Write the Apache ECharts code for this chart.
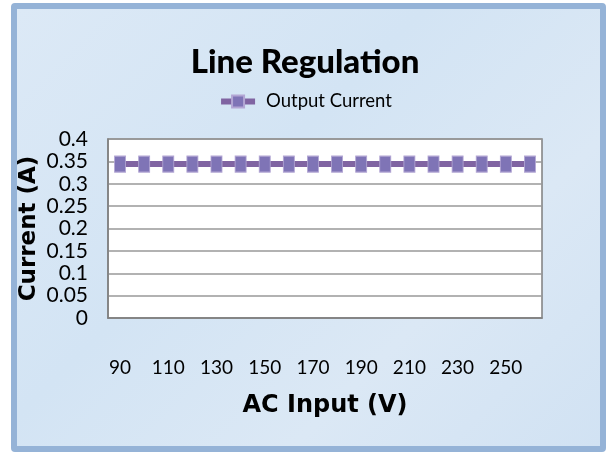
<!DOCTYPE html>
<html>
<head>
<meta charset="utf-8">
<script src="https://cdn.jsdelivr.net/npm/echarts@6/dist/echarts.min.js"></script>
<style>
  html, body { margin: 0; padding: 0; background: #ffffff; }
  #wrap { position: relative; width: 610px; height: 455px; overflow: hidden; }
  #frame { position: absolute; left: 11px; top: 3px; width: 583px; height: 437px;
           border: 6px solid #95b3d7; border-radius: 4px;
           background: linear-gradient(135deg, #dce9f6 0%, #d3e4f4 40%, #dbe8f5 70%, #d1e2f3 100%); }
  #chart { position: absolute; left: 0; top: 0; width: 610px; height: 455px; }
</style>
</head>
<body>
<div id="wrap">
  <div id="frame"></div>
  <div id="chart"></div>
</div>
<script>
const categories = ['90','100','110','120','130','140','150','160','170','180','190','200','210','220','230','240','250','260'];
const outputCurrent = [0.344,0.344,0.344,0.344,0.344,0.344,0.344,0.344,0.344,0.344,0.344,0.344,0.344,0.344,0.344,0.344,0.344,0.344];
const yTicks = { min: 0, max: 0.4, interval: 0.05 };

const chart = echarts.init(document.getElementById('chart'), null, { renderer: 'canvas' });
chart.setOption({
  backgroundColor: 'transparent',
  animation: false,
  title: {
    text: 'Line Regulation',
    left: 'center',
    top: 41,
    textStyle: { fontFamily: 'Lato', fontWeight: 900, fontSize: 33, color: '#000' }
  },
  legend: {
    top: 87,
    left: 'center',
    itemWidth: 34,
    itemHeight: 15,
    itemGap: 4,
    lineStyle: { width: 6 },
    textStyle: { fontFamily: 'Lato', fontSize: 18.5, color: '#000', padding: [0,0,0,6] },
    data: ['Output Current']
  },
  grid: {
    left: 108, top: 139, width: 434, height: 179,
    show: true, backgroundColor: '#ffffff', borderColor: '#7f7f7f', borderWidth: 1.5
  },
  xAxis: {
    type: 'category',
    data: categories,
    boundaryGap: true,
    name: 'AC Input (V)',
    nameLocation: 'middle',
    nameGap: 76,
    nameMoveOverlap: false,
    nameTextStyle: { fontFamily: 'DejaVu Sans', fontWeight: 'bold', fontSize: 24, color: '#000' },
    axisLine: { show: true, lineStyle: { color: '#7f7f7f', width: 1.5 } },
    axisTick: { show: false },
    axisLabel: { interval: 1, margin: 40, fontFamily: 'Lato', fontSize: 19, color: '#000' },
    splitLine: { show: false }
  },
  yAxis: {
    type: 'value',
    min: yTicks.min, max: yTicks.max, interval: yTicks.interval,
    name: 'Current (A)',
    nameLocation: 'middle',
    nameGap: 67,
    nameMoveOverlap: false,
    nameTextStyle: { fontFamily: 'DejaVu Sans', fontWeight: 'bold', fontSize: 23, color: '#000' },
    axisLine: { show: true, lineStyle: { color: '#7f7f7f', width: 1.5 } },
    axisTick: { show: false },
    axisLabel: { margin: 20, fontFamily: 'Lato', fontSize: 21, color: '#000' },
    splitLine: { show: true, lineStyle: { color: '#999999', width: 1.5 } }
  },
  series: [{
    name: 'Output Current',
    type: 'line',
    data: outputCurrent,
    symbol: 'rect',
    symbolSize: [11, 16],
    showAllSymbol: true,
    lineStyle: { color: '#8064a2', width: 6 },
    itemStyle: { color: '#7f74b6', borderColor: '#b3a6d4', borderWidth: 1 }
  }]
});
</script>
</body>
</html>
